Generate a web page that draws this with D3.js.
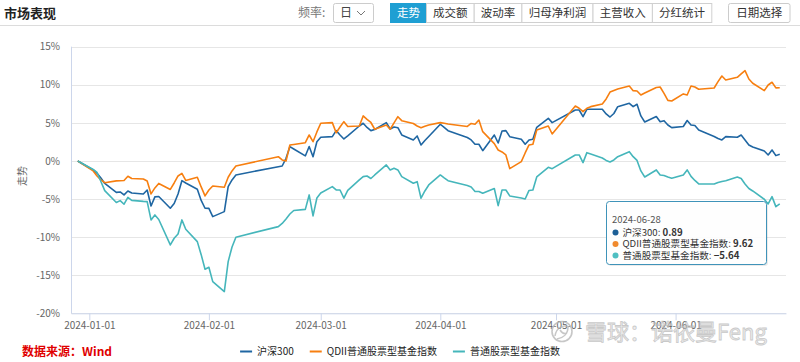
<!DOCTYPE html>
<html>
<head>
<meta charset="utf-8">
<script src="https://cdn.jsdelivr.net/npm/d3@7"></script>
<style>
  body { margin: 0; background: #fff; }
  svg { display: block; font-family: "Noto Sans CJK SC", "Noto Sans", sans-serif; }
</style>
</head>
<body>
<script>
// trading days, Dec 29 2023 is the base (0%)
const dates = [
  '2023-12-29',
  '2024-01-02','2024-01-03','2024-01-04','2024-01-05','2024-01-08','2024-01-09','2024-01-10','2024-01-11','2024-01-12',
  '2024-01-15','2024-01-16','2024-01-17','2024-01-18','2024-01-19','2024-01-22','2024-01-23','2024-01-24','2024-01-25',
  '2024-01-26','2024-01-29','2024-01-30','2024-01-31',
  '2024-02-01','2024-02-02','2024-02-05','2024-02-06','2024-02-07','2024-02-08','2024-02-19','2024-02-20','2024-02-21',
  '2024-02-22','2024-02-23','2024-02-26','2024-02-27','2024-02-28','2024-02-29',
  '2024-03-01','2024-03-04','2024-03-05','2024-03-06','2024-03-07','2024-03-08','2024-03-11','2024-03-12','2024-03-13',
  '2024-03-14','2024-03-15','2024-03-18','2024-03-19','2024-03-20','2024-03-21','2024-03-22','2024-03-25','2024-03-26',
  '2024-03-27','2024-03-28','2024-03-29',
  '2024-04-01','2024-04-02','2024-04-03','2024-04-08','2024-04-09','2024-04-10','2024-04-11','2024-04-12','2024-04-15',
  '2024-04-16','2024-04-17','2024-04-18','2024-04-19','2024-04-22','2024-04-23','2024-04-24','2024-04-25','2024-04-26',
  '2024-04-29','2024-04-30',
  '2024-05-06','2024-05-07','2024-05-08','2024-05-09','2024-05-10','2024-05-13','2024-05-14','2024-05-15','2024-05-16',
  '2024-05-17','2024-05-20','2024-05-21','2024-05-22','2024-05-23','2024-05-24','2024-05-27','2024-05-28','2024-05-29',
  '2024-05-30','2024-05-31',
  '2024-06-03','2024-06-04','2024-06-05','2024-06-06','2024-06-07','2024-06-11','2024-06-12','2024-06-13','2024-06-14',
  '2024-06-17','2024-06-18','2024-06-19','2024-06-20','2024-06-21','2024-06-24','2024-06-25','2024-06-26','2024-06-27',
  '2024-06-28'
];

const hs300 = [
  0,
  -1.18, -1.61, -2.23, -2.95, -4.13, -4.07, -4.46, -3.94, -4.20, -4.33, -3.81, -5.91, -4.72, -4.66, -6.21, -5.58, -4.33, -2.59,
  -2.89, -3.71, -5.18, -6.21,
  -6.23, -7.31, -6.65, -3.37, -2.49, -1.84, -0.75, -0.66, 0.35, 1.88, 1.57, 0.66, 1.90, 0.56, 2.53,
  3.11, 3.19, 3.98, 3.41, 2.89, 3.28, 4.59, 4.95, 4.40, 3.98, 4.13, 5.03, 4.20, 4.46, 4.37, 3.41, 2.76, 3.28, 2.10, 2.69, 3.22,
  4.82, 4.40, 3.98, 3.08, 2.76, 2.19, 2.19, 1.35, 3.41, 2.36, 3.94, 3.98, 3.19, 2.85, 2.19, 2.76, 2.85, 4.42, 5.60, 5.03,
  6.69, 6.69, 5.81, 6.78, 6.78, 6.78, 6.17, 5.77, 6.23, 7.13, 7.57, 7.13, 7.44, 5.91, 5.12, 5.84, 5.16, 5.29, 4.72, 4.37,
  4.53, 5.31, 4.72, 4.66, 4.07, 3.22, 2.95, 2.76, 3.19, 3.11, 3.41, 2.76, 2.10, 1.84, 1.31, 0.79, 1.44, 0.70, 0.89
];

const qdii = [
  0,
  -1.31, -1.97, -2.49, -2.85, -2.62, -2.59, -2.56, -2.01, -2.30, -2.36, -2.62, -4.33, -3.54, -2.95, -3.74, -2.89, -1.97, -1.64,
  -2.56, -2.14, -3.41, -4.59,
  -3.81, -3.28, -3.45, -2.14, -1.31, -0.66, 0.56, 0.13, 0.00, 2.10, 2.17, 2.40, 3.41, 2.53, 3.81,
  4.95, 5.03, 3.71, 4.46, 5.16, 4.53, 4.59, 5.91, 5.45, 5.05, 4.16, 4.72, 4.16, 4.99, 5.81, 5.29, 4.92, 4.59, 4.37, 4.55, 4.72,
  5.03, 4.95, 4.86, 4.53, 4.92, 4.82, 5.38, 3.85, 2.28, 1.44, 1.18, 0.79, -1.01, -0.09, 1.05, 2.10, 2.19, 4.07, 4.59, 3.54,
  7.22, 6.92, 6.47, 6.92, 7.13, 7.48, 8.14, 9.05, 9.25, 9.45, 9.84, 9.23, 9.19, 8.66, 8.92, 9.65, 9.71, 8.88, 7.95, 7.87,
  8.80, 8.66, 9.84, 9.71, 9.41, 9.58, 10.41, 11.15, 10.63, 10.98, 11.42, 11.85, 10.76, 10.20, 9.23, 9.97, 10.33, 9.60, 9.62
];

const equity = [
  0,
  -1.12, -1.51, -2.69, -3.90, -5.45, -5.21, -5.68, -4.79, -5.18, -5.31, -5.34, -7.74, -7.09, -7.68, -11.02, -10.15, -9.58, -7.74,
  -8.96, -10.59, -12.30, -14.21,
  -13.95, -15.84, -17.15, -13.21, -11.29, -10.01, -8.62, -8.20, -7.61, -6.96, -6.50, -6.36, -4.46, -7.22, -4.86,
  -4.20, -3.37, -3.81, -3.81, -4.89, -3.87, -2.49, -2.06, -1.97, -2.30, -1.84, -0.52, -1.18, -0.96, -1.18, -2.06, -2.93, -2.72,
  -4.89, -3.94, -3.15,
  -1.84, -2.23, -2.59, -3.22, -3.41, -4.00, -4.00, -4.24, -3.61, -5.87, -3.81, -3.81, -4.59, -4.86, -4.99, -3.87, -3.81, -2.10,
  -0.83, -1.01,
  0.79, 0.79, -0.22, 1.09, 0.92, 0.39, 0.07, -0.13, 0.13, 0.56, 1.22, 0.56, 0.07, -1.31, -2.10, -1.18, -1.84, -1.90, -2.10, -2.27,
  -1.84, -1.18, -2.03, -2.56, -3.02, -3.02, -2.82, -2.69, -2.59, -2.10, -2.30, -3.02, -3.61, -3.94, -5.03, -5.64, -4.68, -6.00, -5.64
];

const seriesNames = ['沪深300', 'QDII普通股票型基金指数', '普通股票型基金指数'];
const seriesColors = ['#1f66a2', '#f77f10', '#45b6bb'];
const dotColors = ['#1c5f96', '#f08a2e', '#4fbfc2'];
const yTicks = [-20, -15, -10, -5, 0, 5, 10, 15];
const tabs = ['走势', '成交额', '波动率', '归母净利润', '主营收入', '分红统计'];

const width = 800, height = 362;
const plot = { left: 71, right: 786, top: 46.7, bottom: 313.3 };

const parse = d3.timeParse('%Y-%m-%d');
const days = dates.map(parse);
const allSeries = [hs300, qdii, equity];

const svg = d3.select('body').append('svg')
  .attr('width', width)
  .attr('height', height);

// ---- header ----
svg.append('text')
  .attr('x', 4).attr('y', 18)
  .style('font-size', '13px').style('font-weight', 'bold').style('fill', '#222')
  .text('市场表现');

svg.append('line')
  .attr('x1', 0).attr('x2', width).attr('y1', 25.5).attr('y2', 25.5)
  .style('stroke', '#dcdcdc');

svg.append('text')
  .attr('x', 298).attr('y', 17)
  .style('font-size', '12px').style('fill', '#777')
  .text('频率:');

svg.append('rect')
  .attr('x', 333.5).attr('y', 3.5).attr('width', 40).attr('height', 19).attr('rx', 2)
  .style('fill', '#fff').style('stroke', '#ccc');
svg.append('text')
  .attr('x', 340).attr('y', 17)
  .style('font-size', '12px').style('fill', '#444')
  .text('日');
svg.append('path')
  .attr('d', 'M357,11 L361,15 L365,11')
  .style('fill', 'none').style('stroke', '#777');

const tabG = svg.append('g');
let tx = 390.5;
tabs.forEach((t, i) => {
  const w = t.length * 11.7 + 12.6;
  tabG.append('rect')
    .attr('x', tx).attr('y', 3.5).attr('width', w).attr('height', 19)
    .style('fill', i === 0 ? '#1f9fd3' : '#fff')
    .style('stroke', i === 0 ? '#1f9fd3' : '#d0d0d0');
  tabG.append('text')
    .attr('x', tx + w / 2).attr('y', 17.3)
    .attr('text-anchor', 'middle')
    .style('font-size', '11.5px')
    .style('fill', i === 0 ? '#fff' : '#333')
    .text(t);
  tx += w;
});

svg.append('rect')
  .attr('x', 728.5).attr('y', 3.5).attr('width', 61.5).attr('height', 19).attr('rx', 2)
  .style('fill', '#fff').style('stroke', '#ccc');
svg.append('text')
  .attr('x', 759.25).attr('y', 17.3).attr('text-anchor', 'middle')
  .style('font-size', '11.5px').style('fill', '#333')
  .text('日期选择');

// ---- scales ----
const x = d3.scaleTime()
  .domain([d3.timeHour.offset(days[0], -42), d3.timeHour.offset(days[days.length - 1], 39)])
  .range([plot.left, plot.right]);

const y = d3.scaleLinear()
  .domain([-20, 15])
  .range([plot.bottom, plot.top]);

// grid
svg.append('g')
  .selectAll('line')
  .data(yTicks)
  .enter().append('line')
    .attr('x1', plot.left).attr('x2', plot.right)
    .attr('y1', d => Math.round(y(d)) + 0.5).attr('y2', d => Math.round(y(d)) + 0.5)
    .style('stroke', '#e6e6e6');

// y axis
const yAxis = svg.append('g')
  .attr('transform', `translate(${plot.left},0)`)
  .call(d3.axisLeft(y).tickValues(yTicks).tickFormat(d => d + '%').tickSize(0).tickPadding(11));
yAxis.select('.domain').remove();
yAxis.selectAll('text')
  .style('font-size', '10px').style('fill', '#666')
  .style('font-family', '"Noto Sans CJK SC", "Noto Sans", sans-serif');

svg.append('line')
  .attr('x1', plot.left + 0.5).attr('x2', plot.left + 0.5)
  .attr('y1', plot.top).attr('y2', plot.bottom)
  .style('stroke', '#ccd6eb');

svg.append('text')
  .attr('transform', 'translate(26,176) rotate(-90)')
  .attr('text-anchor', 'middle')
  .style('font-size', '10px').style('fill', '#666')
  .text('走势');

// x axis
const xAxis = svg.append('g')
  .attr('transform', `translate(0,${plot.bottom})`)
  .call(d3.axisBottom(x)
    .tickValues(d3.timeMonth.range(parse('2024-01-01'), parse('2024-07-01')))
    .tickFormat(d3.timeFormat('%Y-%m-%d'))
    .tickSize(7).tickSizeOuter(0).tickPadding(2));
xAxis.select('.domain').style('stroke', '#ccd6eb');
xAxis.selectAll('.tick line').style('stroke', '#ccd6eb');
xAxis.selectAll('text')
  .style('font-size', '10px').style('fill', '#666')
  .style('font-family', '"Noto Sans CJK SC", "Noto Sans", sans-serif');

// ---- lines ----
const line = d3.line()
  .x((d, i) => x(days[i]))
  .y(d => y(d));

svg.append('g')
  .selectAll('path')
  .data(allSeries)
  .enter().append('path')
    .attr('d', line)
    .style('fill', 'none')
    .style('stroke', (d, i) => seriesColors[i])
    .style('stroke-width', 1.6)
    .style('stroke-linejoin', 'round');

// ---- tooltip for the last day ----
const last = dates.length - 1;
const tip = svg.append('g').attr('transform', 'translate(606.5,201.5)');
tip.append('rect')
  .attr('x', 1.5).attr('y', 1.5).attr('width', 160).attr('height', 63).attr('rx', 3)
  .style('fill', 'rgba(0,0,0,0.08)');
tip.append('rect')
  .attr('width', 160).attr('height', 63).attr('rx', 3)
  .style('fill', 'rgba(255,255,255,0.93)')
  .style('stroke', '#3f93b9');
tip.append('text')
  .attr('x', 5.5).attr('y', 21)
  .style('font-size', '9.5px').style('fill', '#555')
  .text(dates[last]);
seriesNames.forEach((name, i) => {
  const cy = 31 + i * 11.5;
  tip.append('circle')
    .attr('cx', 9).attr('cy', cy).attr('r', 3)
    .style('fill', dotColors[i]);
  const t = tip.append('text')
    .attr('x', 16).attr('y', cy + 3.4)
    .style('font-size', '9.6px').style('fill', '#333');
  t.append('tspan').text(name + ': ');
  t.append('tspan').style('font-weight', 'bold').text(d3.format('.2f')(allSeries[i][last]).replace('-', '–'));
});

// ---- legend ----
const legend = svg.append('g');
let lx = 0;
seriesNames.forEach((name, i) => {
  const item = legend.append('g').attr('transform', `translate(${lx},0)`);
  item.append('line')
    .attr('x1', 0).attr('x2', 12).attr('y1', 0).attr('y2', 0)
    .style('stroke', seriesColors[i]).style('stroke-width', 2);
  const t = item.append('text')
    .attr('x', 17).attr('y', 3.5)
    .style('font-size', '10px').style('fill', '#222')
    .text(name);
  lx += 17 + t.node().getComputedTextLength() + 16;
});
legend.attr('transform', `translate(${(width - (lx - 16)) / 2},351.5)`);

svg.append('text')
  .attr('x', 22).attr('y', 356)
  .style('font-size', '12px').style('font-weight', 'bold').style('fill', '#e00000')
  .text('数据来源：Wind');

// ---- watermark ----
const wm = svg.append('g').style('opacity', 0.75);
wm.append('circle')
  .attr('cx', 562).attr('cy', 331.5).attr('r', 10)
  .style('fill', 'none').style('stroke', '#b5b5b5').style('stroke-width', 1.6);
wm.append('path')
  .attr('d', 'M555,336 C556,328 563,324 569,327 M557,339 C563,338 568,334 568,327 M560,330 C562,333 565,334 567,333')
  .style('fill', 'none').style('stroke', '#b5b5b5').style('stroke-width', 1.5);
wm.append('text')
  .attr('x', 585).attr('y', 340)
  .style('font-size', '22px')
  .style('fill', 'rgba(215,215,215,0.6)')
  .style('stroke', '#b8b8b8').style('stroke-width', 0.8)
  .text('雪球：诺依曼Feng');
</script>
</body>
</html>
